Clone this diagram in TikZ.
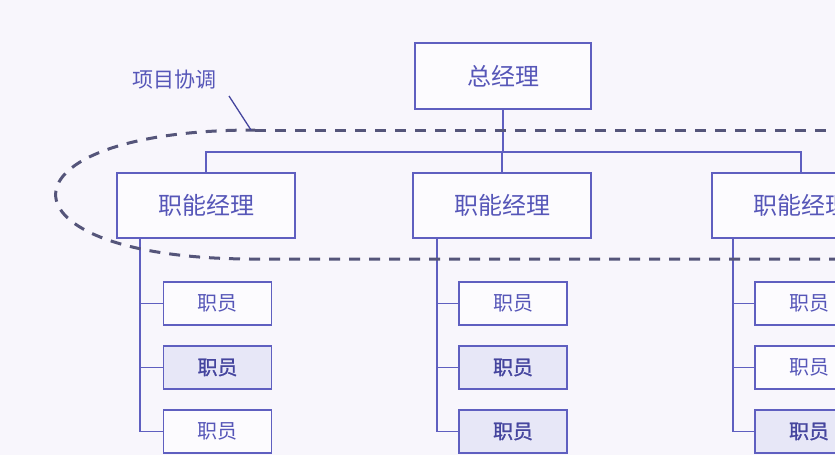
\documentclass[tikz,border=0pt]{standalone}
\usepackage{fontspec}
\newfontfamily\cjk{Noto Sans CJK SC}
\newfontfamily\cjkb[FakeBold=1.2]{Noto Sans CJK SC}
\definecolor{bgc}{HTML}{F8F6FC}
\definecolor{lc}{HTML}{5F5FC0}
\definecolor{tc}{HTML}{5656B8}
\definecolor{tcd}{HTML}{45459E}
\definecolor{fillc}{HTML}{E7E7F7}
\definecolor{dc}{HTML}{55557A}
\tikzset{
  box/.style={draw=lc, line width=1.2pt, inner sep=0pt, text=tc, fill=white!60!bgc},
  gmbox/.style={box, minimum width=176, minimum height=66, font=\cjk\fontsize{24}{24}\selectfont},
  mgrbox/.style={box, minimum width=178, minimum height=65, font=\cjk\fontsize{24}{24}\selectfont},
  empbox/.style={box, minimum width=108, minimum height=43, font=\cjk\fontsize{20}{20}\selectfont},
  empfill/.style={empbox, fill=fillc, text=tcd, font=\cjkb\fontsize{20}{20}\selectfont},
  conn/.style={draw=lc, line width=1.2pt},
  coord/.style={draw=dc, line width=3pt, dash pattern=on 11pt off 9pt}
}
\begin{document}
\begin{tikzpicture}[x=1pt,y=-1pt]
\useasboundingbox (0,0) rectangle (835,455);
\clip (0,0) rectangle (835,455);
\fill[bgc] (0,0) rectangle (835,455);

% general manager
\node[gmbox] (gm) at (503,76) {总经理};

% functional managers
\node[mgrbox] (m1) at (206,205.5) {职能经理};
\node[mgrbox] (m2) at (502,205.5) {职能经理};
\node[mgrbox] (m3) at (801,205.5) {职能经理};

% bus
\coordinate (busL) at (206,152);
\coordinate (busR) at (801,152);
\draw[conn] (gm.south) -- (gm.south |- busL);
\draw[conn] (m1.north) -- (busL) -- (busR) -- (m3.north);
\draw[conn] (m2.north) -- (m2.north |- busL);

% employees
\node[empbox]  (e11) at (217.5,303.5) {职员};
\node[empfill] (e12) at (217.5,367.5) {职员};
\node[empbox]  (e13) at (217.5,431.5) {职员};
\node[empbox]  (e21) at (513,303.5) {职员};
\node[empfill] (e22) at (513,367.5) {职员};
\node[empfill] (e23) at (513,431.5) {职员};
\node[empbox]  (e31) at (809,303.5) {职员};
\node[empbox]  (e32) at (809,367.5) {职员};
\node[empfill] (e33) at (809,431.5) {职员};

% trunks
\coordinate (t1) at (140,238);
\coordinate (t2) at (437,238);
\coordinate (t3) at (733,238);
\draw[conn] (t1) |- (e13.west);
\draw[conn] (t1 |- e11.west) -- (e11.west);
\draw[conn] (t1 |- e12.west) -- (e12.west);
\draw[conn] (t2) |- (e23.west);
\draw[conn] (t2 |- e21.west) -- (e21.west);
\draw[conn] (t2 |- e22.west) -- (e22.west);
\draw[conn] (t3) |- (e33.west);
\draw[conn] (t3 |- e31.west) -- (e31.west);
\draw[conn] (t3 |- e32.west) -- (e32.west);

% project coordination loop
\draw[coord] (255,130) -- (880,130);
\draw[coord] (880,259) -- (250,259) .. controls (-10,258) and (-10,130) .. (255,130);

% label
\node[text=tc, font=\cjk\fontsize{21}{21}\selectfont] (lab) at (174,80) {项目协调};
\coordinate (l0) at (229,96);
\coordinate (l1) at (251,130);
\draw[draw=tcd, line width=1.3pt] (l0) -- (l1);
\end{tikzpicture}
\end{document}
